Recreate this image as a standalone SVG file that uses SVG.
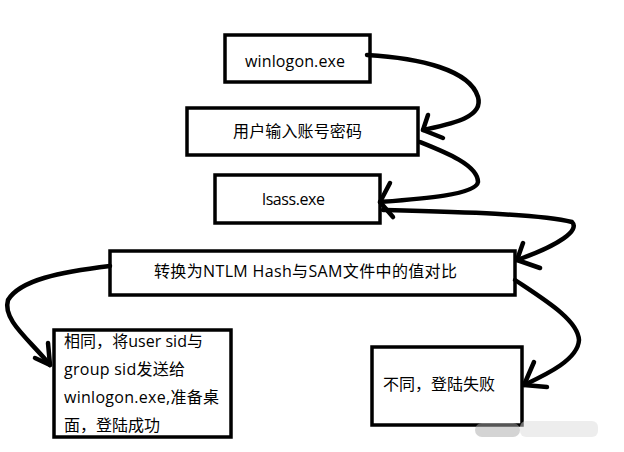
<svg xmlns="http://www.w3.org/2000/svg" width="624" height="452" viewBox="0 0 624 452">
<style>
.box{fill:#fff;stroke:#000;stroke-width:3.5}
.t{font-family:"Open Sans","Noto Sans CJK SC",sans-serif;font-size:16px;fill:#000}
.c{fill:none;stroke:#000;stroke-width:4.5;stroke-linecap:round;stroke-linejoin:round}
</style>
<rect width="624" height="452" fill="#fff"/>
<g id="n-winlogon"><rect class="box" x="225" y="35" width="145" height="47"/><text class="t" x="245" y="67" textLength="100">winlogon.exe</text></g>
<g id="n-input"><rect class="box" x="187" y="108" width="231" height="47"/><text class="t" x="233" y="137" textLength="129">用户输入账号密码</text></g>
<g id="n-lsass"><rect class="box" x="215" y="175" width="165" height="48"/><text class="t" x="262" y="205" textLength="63">lsass.exe</text></g>
<g id="n-compare"><rect class="box" x="110" y="251" width="405" height="44"/><text class="t" x="154" y="277" textLength="303">转换为NTLM Hash与SAM文件中的值对比</text></g>
<g id="n-same"><rect class="box" x="54" y="330" width="177" height="107"/>
<text class="t" x="64" y="347" textLength="139">相同，将user sid与</text>
<text class="t" x="64" y="375" textLength="121">group sid发送给</text>
<text class="t" x="64" y="403" textLength="155">winlogon.exe,准备桌</text>
<text class="t" x="64" y="431" textLength="96">面，登陆成功</text></g>
<g id="n-fail"><rect class="box" x="372" y="347" width="150" height="78"/><text class="t" x="383" y="390" textLength="112">不同，登陆失败</text></g>
<g id="connectors">
<path class="c" d="M367,55 C420,58 470,70 478,97 C484,118 450,124 423,130"/>
<path class="c" d="M428,115 L423,130 L443,138"/>
<path class="c" d="M420,142 C445,152 478,165 478,182 C476,195 420,199 380,202"/>
<path class="c" d="M390,183 L380,202 L393,217"/>
<path class="c" d="M383,210 C460,212 540,214 572,222 C580,230 560,245 517,260"/>
<path class="c" d="M523,243 L517,260 L540,268"/>
<path class="c" d="M515,280 C545,300 578,320 579,340 C578,360 545,375 524,385"/>
<path class="c" d="M534,362 L524,385 L547,387"/>
<path class="c" d="M110,266 C60,272 20,280 8,300 C2,320 30,340 50,365"/>
<path class="c" d="M48,343 L50,365 L35,358"/>
</g>
<g opacity="0.5">
<rect x="475" y="423" width="45" height="14" rx="7" fill="#aaa"/>
<rect x="520" y="421" width="78" height="16" rx="6" fill="#ddd"/>
</g>
</svg>
